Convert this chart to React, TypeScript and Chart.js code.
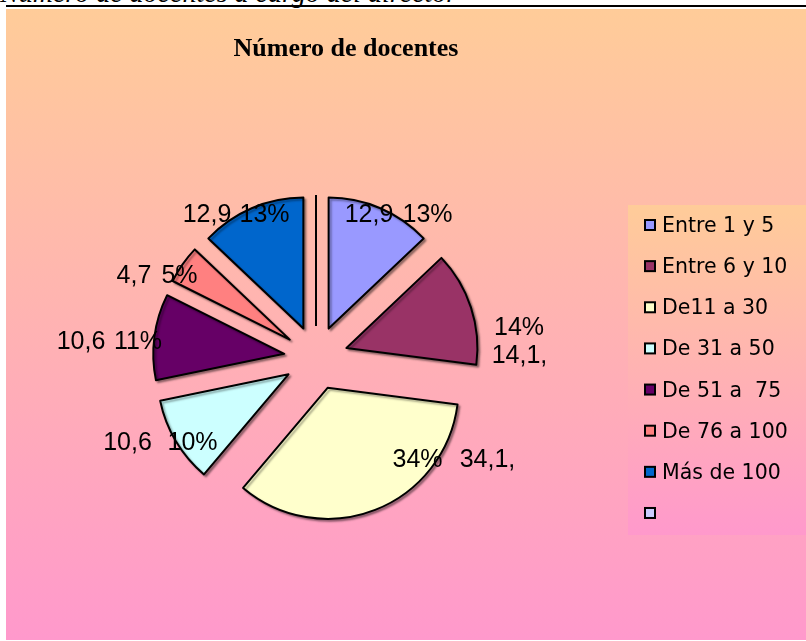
import React, { useEffect, useRef } from "react";
import { Chart, registerables } from "chart.js";

Chart.register(...registerables);

// ---- data ----
const categories = ["Entre 1 y 5", "Entre 6 y 10", "De11 a 30", "De 31 a 50", "De 51 a  75", "De 76 a 100", "Más de 100", ""];
const values = [12.9, 14.1, 34.1, 10.6, 10.6, 4.7, 12.9, 0];
const valueTexts = ["12,9", "14,1,", "34,1,", "10,6", "10,6", "4,7", "12,9", ""];
const percentTexts = ["13%", "14%", "34%", "10%", "11%", "5%", "13%", ""];
const titleText = "Número de docentes";
const captionText = "Número de docentes a cargo del director";

// ---- styles ----
const sliceColors = ["#9999FF", "#993366", "#FFFFCC", "#CCFFFF", "#660066", "#FF8080", "#0066CC", "#CCCCFF"];
const BG_TOP = "#FFCC99";
const BG_BOTTOM = "#FF99CC";
const EXPLODE = 32;
const RADIUS = 131;
// label text-centre offsets from the pie centre (px)
const valueOffsets = [[53, -145], [203.5, -4], [171.5, 99.5], [-188.5, 83], [-235, -18.5], [-182, -84], [-109, -145], null];
const percentOffsets = [[111.5, -145], [203, -32], [101.5, 99.5], [-123.5, 83], [-178, -18.5], [-136.5, -84], [-51.5, -145], null];
const LABEL_FONT = "25px 'Liberation Sans'";
const LABEL_BASE = 9;
const LEGEND_FONT = "20.5px 'DejaVu Sans'";
const LEGEND_BOX = { x: 622, y: 196, w: 178, h: 330 };
const LEGEND_ITEM = { boxX: 638, textX: 656, firstY: 216, step: 41.14, box: 12 };
const TITLE_POS = { x: 340, y: 47 };

const decorPlugin = {
  id: "decor",
  beforeDraw(chart: any) {
    const { ctx, width, height } = chart;
    ctx.save();
    const g = ctx.createLinearGradient(0, 0, 0, height);
    g.addColorStop(0, BG_TOP);
    g.addColorStop(1, BG_BOTTOM);
    ctx.fillStyle = g;
    ctx.fillRect(0, 0, width, height);
    const lg = ctx.createLinearGradient(0, LEGEND_BOX.y, 0, LEGEND_BOX.y + LEGEND_BOX.h);
    lg.addColorStop(0, BG_TOP);
    lg.addColorStop(1, BG_BOTTOM);
    ctx.fillStyle = lg;
    ctx.fillRect(LEGEND_BOX.x, LEGEND_BOX.y, LEGEND_BOX.w, LEGEND_BOX.h);
    ctx.restore();
  },
  beforeDatasetDraw(chart: any, args: any) {
    const { ctx } = chart;
    const arcs = args.meta.data;
    arcs.forEach((arc: any) => {
      const { startAngle, endAngle, x, y, outerRadius } = arc.getProps(["startAngle", "endAngle", "x", "y", "outerRadius"], true);
      const mid = (startAngle + endAngle) / 2;
      const dx = Math.cos(mid) * EXPLODE;
      const dy = Math.sin(mid) * EXPLODE;
      if (endAngle - startAngle <= 0) {
        ctx.save();
        ctx.strokeStyle = arc.options.borderColor;
        ctx.lineWidth = arc.options.borderWidth;
        ctx.beginPath();
        ctx.moveTo(x + dx, y + dy);
        ctx.lineTo(x + Math.cos(mid) * (EXPLODE + outerRadius), y + Math.sin(mid) * (EXPLODE + outerRadius));
        ctx.stroke();
        ctx.restore();
        return;
      }
      ctx.save();
      ctx.shadowColor = "rgba(0,0,0,0.35)";
      ctx.shadowOffsetX = 2;
      ctx.shadowOffsetY = 2;
      ctx.shadowBlur = 2;
      ctx.translate(dx, dy);
      arc.draw(ctx);
      ctx.restore();
    });
    return false;
  },
  afterDraw(chart: any) {
    const { ctx } = chart;
    const meta = chart.getDatasetMeta(0);
    ctx.save();
    ctx.fillStyle = "#000";
    // title
    ctx.font = "bold 26px 'Liberation Serif'";
    ctx.textAlign = "center";
    ctx.textBaseline = "alphabetic";
    ctx.fillText(titleText, TITLE_POS.x, TITLE_POS.y);
    // data labels
    ctx.font = LABEL_FONT;
    meta.data.forEach((arc: any, i: number) => {
      const cx = arc.x;
      const cy = arc.y;
      const vo = valueOffsets[i];
      const po = percentOffsets[i];
      if (vo && valueTexts[i]) ctx.fillText(valueTexts[i], cx + vo[0], cy + vo[1] + LABEL_BASE);
      if (po && percentTexts[i]) ctx.fillText(percentTexts[i], cx + po[0], cy + po[1] + LABEL_BASE);
    });
    // legend
    ctx.font = LEGEND_FONT;
    ctx.textAlign = "left";
    const ds = chart.data.datasets[0];
    chart.data.labels.forEach((lab: string, i: number) => {
      const cy = LEGEND_ITEM.firstY + LEGEND_ITEM.step * i;
      const b = LEGEND_ITEM.box;
      ctx.fillStyle = ds.backgroundColor[i];
      ctx.fillRect(LEGEND_ITEM.boxX + 1, cy - b / 2 + 1, b - 2, b - 2);
      ctx.strokeStyle = "#000";
      ctx.lineWidth = 2;
      ctx.strokeRect(LEGEND_ITEM.boxX + 1, cy - b / 2 + 1, b - 2, b - 2);
      ctx.fillStyle = "#000";
      if (lab) ctx.fillText(lab, LEGEND_ITEM.textX, cy + 7);
    });
    ctx.restore();
  },
};

export default function App() {
  const canvasRef = useRef<HTMLCanvasElement | null>(null);
  useEffect(() => {
    if (!canvasRef.current) return;
    const chart = new Chart(canvasRef.current, {
      type: "pie",
      data: {
        labels: categories,
        datasets: [
          {
            data: values,
            backgroundColor: sliceColors,
            borderColor: "#000000",
            borderWidth: 2,
            borderJoinStyle: "round",
          } as any,
        ],
      },
      options: {
        responsive: false,
        animation: false,
        devicePixelRatio: 1,
        radius: RADIUS,
        layout: { padding: { left: 0, right: 180, top: 67, bottom: 0 } },
        plugins: {
          legend: { display: false },
          title: { display: false },
          tooltip: { enabled: false },
        },
      } as any,
      plugins: [decorPlugin],
    });
    return () => chart.destroy();
  }, []);

  return (
    <div style={{ position: "absolute", left: 0, top: 0, width: 806, height: 641, overflow: "hidden" }}>
      <div
        style={{
          position: "absolute",
          left: 0,
          top: -23,
          fontFamily: "'Liberation Serif'",
          fontStyle: "italic",
          fontSize: 28,
          whiteSpace: "nowrap",
          color: "#000",
        }}
      >
        {captionText}
      </div>
      <div style={{ position: "absolute", left: 6, top: 5, width: 800, height: 2, background: "#000" }} />
      <canvas ref={canvasRef} width={800} height={631} style={{ position: "absolute", left: 6, top: 9, display: "block" }} />
    </div>
  );
}
